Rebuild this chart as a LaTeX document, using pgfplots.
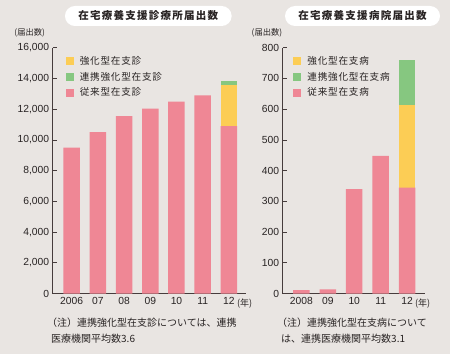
\documentclass[border=0pt]{standalone}
\usepackage{pgfplots}
\pgfplotsset{compat=1.18}
\usepackage{fontspec}
\setmainfont{Liberation Sans}
\newfontfamily\jp{Noto Sans CJK JP}
\newfontfamily\jpt[LetterSpace=12]{Noto Sans CJK JP}
\newfontfamily\jpl[LetterSpace=8]{Noto Sans CJK JP}
\definecolor{bg}{RGB}{233,229,226}
\definecolor{pinkb}{RGB}{239,135,149}
\definecolor{yellowb}{RGB}{252,205,85}
\definecolor{greenb}{RGB}{134,199,128}
\definecolor{axc}{RGB}{70,60,60}
\definecolor{txt}{RGB}{40,35,35}
\pgfplotsset{mybar/.style={
  scale only axis, height=245.9pt, ymin=0,
  axis x line=bottom, axis y line=left,
  axis line style={-, draw=axc, line width=0.8pt},
  ybar stacked, bar width=16.5pt,
  tick align=inside, major tick length=4.5pt,
  xtick style={draw=none},
  ytick style={draw=axc, line width=0.8pt},
  tick label style={font=\fontsize{10.3}{12}\selectfont, text=txt},
  /pgf/number format/assume math mode=true,
  /pgf/number format/1000 sep={,},
  scaled y ticks=false,
  legend image code/.code={\fill[##1, draw=none] (0pt,-4pt) rectangle (8pt,4pt); \path[draw=none, fill=none] (12pt,0pt);},
  legend style={draw=none, fill=none, inner sep=0pt,
    font=\jpl\fontsize{9.6}{11}\selectfont, text=txt, row sep=2.2pt},
  legend cell align=left,
  clip=false
}}
\begin{document}
\begin{tikzpicture}
\fill[bg] (0,0) rectangle (450pt,354pt);
\useasboundingbox (0,0) rectangle (450pt,354pt);
\node[fill=white, rounded corners=10pt, minimum width=166.7pt, minimum height=20pt, inner sep=0pt, text=txt]
  at (148.3pt,338pt) {\jpt\bfseries\fontsize{10.5}{12}\selectfont 在宅療養支援診療所届出数};
\node[fill=white, rounded corners=10pt, minimum width=155pt, minimum height=20pt, inner sep=0pt, text=txt]
  at (362.5pt,338pt) {\jpt\bfseries\fontsize{10.5}{12}\selectfont 在宅療養支援病院届出数};
\node[text=txt, font=\jp\fontsize{8.3}{10}\selectfont] at (29.7pt,321pt) {(届出数)};
\node[text=txt, font=\jp\fontsize{8.3}{10}\selectfont] at (267pt,321pt) {(届出数)};

\begin{axis}[mybar, at={(52.7pt,60.4pt)}, anchor=south west, width=193.3pt,
  xmin=-0.72, xmax=6.65, ymax=16000, ytick={0,2000,...,16000},
  xtick={0,...,6}, xticklabels={2006,07,08,09,10,11,12},
  legend style={at={(0.067,0.974)}, anchor=north west}]
\addlegendimage{fill=yellowb}\addlegendentry{強化型在支診}
\addlegendimage{fill=greenb}\addlegendentry{連携強化型在支診}
\addlegendimage{fill=pinkb}\addlegendentry{従来型在支診}
\addplot[fill=pinkb, draw=none, forget plot] coordinates {(0,9500) (1,10500) (2,11550) (3,12030) (4,12490) (5,12900) (6,10890)};
\addplot[fill=yellowb, draw=none, forget plot] coordinates {(0,0) (1,0) (2,0) (3,0) (4,0) (5,0) (6,2660)};
\addplot[fill=greenb, draw=none, forget plot] coordinates {(0,0) (1,0) (2,0) (3,0) (4,0) (5,0) (6,290)};
\end{axis}

\begin{axis}[mybar, at={(282.7pt,60.4pt)}, anchor=south west, width=142.3pt,
  xmin=-0.71, xmax=4.68, ymax=800, ytick={0,100,...,800},
  xtick={0,...,4}, xticklabels={2008,09,10,11,12},
  legend style={at={(0.074,0.974)}, anchor=north west}]
\addlegendimage{fill=yellowb}\addlegendentry{強化型在支病}
\addlegendimage{fill=greenb}\addlegendentry{連携強化型在支病}
\addlegendimage{fill=pinkb}\addlegendentry{従来型在支病}
\addplot[fill=pinkb, draw=none, forget plot] coordinates {(0,11) (1,14) (2,340) (3,448) (4,345)};
\addplot[fill=yellowb, draw=none, forget plot] coordinates {(0,0) (1,0) (2,0) (3,0) (4,268)};
\addplot[fill=greenb, draw=none, forget plot] coordinates {(0,0) (1,0) (2,0) (3,0) (4,146)};
\end{axis}

\node[anchor=west, text=txt, font=\jp\fontsize{9}{10}\selectfont, inner sep=0pt] at (237pt,50.7pt) {(年)};
\node[anchor=west, text=txt, font=\jp\fontsize{9}{10}\selectfont, inner sep=0pt] at (415pt,50.7pt) {(年)};

\node[anchor=west, text=txt, font=\jp\fontsize{10}{12}\selectfont, inner sep=0pt] at (47pt,31.7pt) {（注）連携強化型在支診については、連携};
\node[anchor=west, text=txt, font=\jp\fontsize{10}{12}\selectfont, inner sep=0pt] at (51pt,15.7pt) {医療機関平均数3.6};
\node[anchor=west, text=txt, font=\jp\fontsize{10}{12}\selectfont, inner sep=0pt] at (277pt,31.7pt) {（注）連携強化型在支病について};
\node[anchor=west, text=txt, font=\jp\fontsize{10}{12}\selectfont, inner sep=0pt] at (281pt,15.7pt) {は、連携医療機関平均数3.1};
\end{tikzpicture}
\end{document}
